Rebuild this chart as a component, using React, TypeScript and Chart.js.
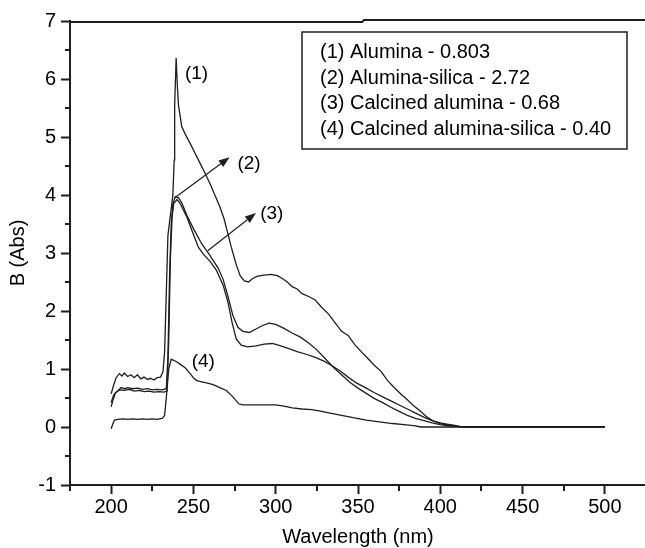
import { useEffect, useRef } from 'react';
import { Chart, registerables } from 'chart.js';

Chart.register(...registerables);

const FONT = '"Liberation Sans", Arial, Helvetica, sans-serif';
const INK = '#1e1e1e';

// (1) Alumina
const wl1 = [200, 201.5, 203, 205, 206.5, 208, 210, 212, 214, 216, 218, 220, 222, 224, 226, 228, 230, 231.5, 232.5, 234.5, 237.5, 238.3, 238.6, 239.5, 240.2, 240.9, 242.9, 245, 248, 251, 254, 257, 260, 263, 266, 268.5, 270.5, 273, 276, 278.5, 281, 283.5, 286, 289, 293, 297, 301, 304, 307, 310, 313, 316, 320, 324, 328, 332, 336, 340, 344, 348, 352, 356, 360, 364, 368, 372, 376, 380, 384, 388, 392, 396, 400, 404, 408, 412, 416, 450, 500];
const ab1 = [0.57, 0.72, 0.85, 0.92, 0.88, 0.93, 0.87, 0.9, 0.85, 0.9, 0.83, 0.86, 0.82, 0.84, 0.81, 0.85, 0.86, 0.95, 1.3, 3.3, 4.0, 4.6, 5.55, 6.36, 5.9, 5.55, 5.18, 5.05, 4.89, 4.72, 4.55, 4.38, 4.2, 4.0, 3.8, 3.6, 3.38, 3.1, 2.8, 2.6, 2.52, 2.5, 2.56, 2.6, 2.62, 2.63, 2.61, 2.56, 2.5, 2.42, 2.38, 2.3, 2.25, 2.19, 2.06, 1.95, 1.8, 1.65, 1.58, 1.42, 1.3, 1.18, 1.06, 0.96, 0.8, 0.68, 0.57, 0.47, 0.36, 0.27, 0.17, 0.1, 0.07, 0.05, 0.03, 0.01, 0, 0, 0];

// (2) Alumina-silica
const wl2 = [200, 201, 202.5, 204, 206, 208, 210, 213, 216, 219, 222, 225, 228, 231, 233.5, 234.5, 235.5, 236.5, 237.5, 239, 241, 243, 246, 250, 255, 260, 265, 268, 271, 274, 277, 280, 284, 288, 292, 296, 300, 305, 310, 315, 320, 325, 330, 335, 340, 345, 350, 355, 360, 365, 370, 375, 380, 385, 390, 395, 400, 405, 410, 414, 500];
const ab2 = [0.35, 0.45, 0.58, 0.62, 0.68, 0.66, 0.68, 0.66, 0.67, 0.65, 0.66, 0.64, 0.65, 0.64, 0.66, 1.2, 2.6, 3.5, 3.85, 3.97, 3.95, 3.86, 3.65, 3.42, 3.16, 2.96, 2.74, 2.55, 2.25, 1.92, 1.72, 1.65, 1.63, 1.69, 1.75, 1.79, 1.77, 1.7, 1.62, 1.55, 1.45, 1.33, 1.18, 1.03, 0.9, 0.77, 0.67, 0.58, 0.49, 0.42, 0.34, 0.27, 0.2, 0.15, 0.11, 0.07, 0.04, 0.02, 0.01, 0, 0];

// (3) Calcined alumina
const wl3 = [200, 201.5, 203, 205, 208, 211, 214, 217, 220, 223, 226, 229, 232, 234, 235, 236, 237, 238, 240, 242, 246, 250, 253, 256, 260, 264, 268, 271, 273.5, 276, 279, 283, 288, 293, 298, 303, 308, 313, 319, 324, 329, 334, 339, 344, 349, 355, 360, 365, 370, 375, 380, 385, 390, 395, 400, 405, 410, 415, 500];
const ab3 = [0.42, 0.55, 0.6, 0.64, 0.63, 0.65, 0.62, 0.63, 0.61, 0.62, 0.6, 0.61, 0.6, 0.62, 1.5, 2.9, 3.6, 3.85, 3.92, 3.85, 3.62, 3.32, 3.1, 2.98, 2.86, 2.7, 2.45, 2.15, 1.8, 1.52, 1.41, 1.38, 1.4, 1.43, 1.44, 1.4, 1.35, 1.3, 1.25, 1.2, 1.14, 1.06, 0.97, 0.86, 0.76, 0.67, 0.59, 0.52, 0.45, 0.38, 0.31, 0.24, 0.17, 0.11, 0.06, 0.03, 0.01, 0, 0];

// (4) Calcined alumina-silica
const wl4 = [200, 201, 202, 204, 207, 210, 213, 216, 219, 222, 225, 228, 231, 232.5, 233.5, 235, 236.5, 238, 240, 242, 245, 248, 250, 252, 255, 258, 262, 266, 270, 274, 277.5, 280, 290, 300, 305, 310, 316, 322, 328, 333, 340, 347, 355, 363, 371, 378, 385, 388, 500];
const ab4 = [-0.03, 0.05, 0.12, 0.13, 0.14, 0.13, 0.14, 0.13, 0.14, 0.13, 0.14, 0.13, 0.15, 0.2, 0.5, 1.0, 1.17, 1.15, 1.12, 1.08, 1.02, 0.92, 0.85, 0.8, 0.78, 0.76, 0.73, 0.68, 0.63, 0.52, 0.4, 0.38, 0.38, 0.38, 0.36, 0.33, 0.31, 0.3, 0.27, 0.24, 0.2, 0.16, 0.12, 0.09, 0.06, 0.04, 0.02, 0, 0];

const xTicks = [200, 250, 300, 350, 400, 450, 500];
const yTicks = [-1, 0, 1, 2, 3, 4, 5, 6, 7];
const xMinor = [175, 225, 275, 325, 375, 425, 475, 525];
const yMinor = [-0.5, 0.5, 1.5, 2.5, 3.5, 4.5, 5.5, 6.5];

const legendLines = [
  '(1) Alumina - 0.803',
  '(2) Alumina-silica - 2.72',
  '(3) Calcined alumina - 0.68',
  '(4) Calcined alumina-silica - 0.40',
];

const curveLabels = [
  { text: '(1)', x: 251.9, y: 6.09 },
  { text: '(2)', x: 283.8, y: 4.54 },
  { text: '(3)', x: 297.6, y: 3.67 },
  { text: '(4)', x: 256.0, y: 1.13 },
];

const arrows = [
  { x0: 238.5, y0: 3.95, x1: 272.0, y1: 4.65 },
  { x0: 258.7, y0: 3.04, x1: 288.0, y1: 3.69 },
];

const series = [
  { label: '(1) Alumina - 0.803', wl: wl1, ab: ab1 },
  { label: '(2) Alumina-silica - 2.72', wl: wl2, ab: ab2 },
  { label: '(3) Calcined alumina - 0.68', wl: wl3, ab: ab3 },
  { label: '(4) Calcined alumina-silica - 0.40', wl: wl4, ab: ab4 },
];

const decoPlugin = {
  id: 'deco',
  afterDraw(chart: any) {
    const { ctx, chartArea: ca, scales } = chart;
    const x = scales.x;
    const y = scales.y;
    ctx.save();
    ctx.strokeStyle = INK;
    ctx.lineWidth = 2;
    // minor ticks
    ctx.beginPath();
    for (const v of xMinor) {
      const px = Math.round(x.getPixelForValue(v));
      ctx.moveTo(px, ca.bottom);
      ctx.lineTo(px, ca.bottom + 6);
    }
    for (const v of yMinor) {
      const py = Math.round(y.getPixelForValue(v));
      ctx.moveTo(ca.left, py);
      ctx.lineTo(ca.left - 5, py);
    }
    ctx.stroke();
    // top frame line (with the small scan step)
    const stepX = x.getPixelForValue(352.5);
    ctx.beginPath();
    ctx.moveTo(ca.left - 1, ca.top + 1);
    ctx.lineTo(stepX, ca.top + 1);
    ctx.lineTo(stepX + 2, ca.top - 1);
    ctx.lineTo(ca.right, ca.top - 1);
    ctx.stroke();

    // arrows
    ctx.lineWidth = 1.2;
    ctx.fillStyle = INK;
    for (const a of arrows) {
      const sx = x.getPixelForValue(a.x0);
      const sy = y.getPixelForValue(a.y0);
      const ex = x.getPixelForValue(a.x1);
      const ey = y.getPixelForValue(a.y1);
      const ang = Math.atan2(ey - sy, ex - sx);
      const L = 11;
      const W = 4;
      const bx = ex - L * Math.cos(ang);
      const by = ey - L * Math.sin(ang);
      ctx.beginPath();
      ctx.moveTo(sx, sy);
      ctx.lineTo(bx, by);
      ctx.stroke();
      ctx.beginPath();
      ctx.moveTo(ex, ey);
      ctx.lineTo(bx + W * Math.sin(ang), by - W * Math.cos(ang));
      ctx.lineTo(bx - W * Math.sin(ang), by + W * Math.cos(ang));
      ctx.closePath();
      ctx.fill();
    }

    // curve labels
    ctx.fillStyle = '#000';
    ctx.font = `19px ${FONT}`;
    ctx.textAlign = 'center';
    ctx.textBaseline = 'middle';
    for (const l of curveLabels) {
      ctx.fillText(l.text, x.getPixelForValue(l.x), y.getPixelForValue(l.y));
    }

    // legend box
    ctx.lineWidth = 1.5;
    ctx.strokeStyle = INK;
    ctx.strokeRect(302, 32, 325, 117);
    ctx.font = `20px ${FONT}`;
    ctx.textAlign = 'left';
    const rows = [52.5, 78, 103.5, 129];
    legendLines.forEach((t, i) => ctx.fillText(t, 320, rows[i]));
    ctx.restore();
  },
};

export default function App() {
  const ref = useRef<HTMLCanvasElement | null>(null);

  useEffect(() => {
    if (!ref.current) return;
    const chart = new Chart(ref.current, {
      type: 'line',
      data: {
        datasets: series.map((s) => ({
          label: s.label,
          data: s.wl.map((w, i) => ({ x: w, y: s.ab[i] })),
          borderColor: INK,
          borderWidth: 1.3,
          pointRadius: 0,
          tension: 0,
          fill: false,
        })),
      },
      options: {
        responsive: false,
        devicePixelRatio: 1,
        animation: false,
        layout: { padding: { left: 0, top: 21, right: 14, bottom: 0 } },
        plugins: { legend: { display: false }, tooltip: { enabled: false } },
        scales: {
          x: {
            type: 'linear',
            min: 175,
            max: 525,
            afterBuildTicks: (s: any) => {
              s.ticks = xTicks.map((v) => ({ value: v }));
            },
            afterFit: (s: any) => {
              s.height = 75;
            },
            ticks: {
              font: { size: 20, family: FONT },
              color: '#000',
              padding: 1,
              maxRotation: 0,
              autoSkip: false,
            },
            grid: {
              display: true,
              drawOnChartArea: false,
              drawTicks: true,
              tickLength: 9,
              tickWidth: 2,
              tickColor: INK,
            },
            border: { display: true, color: INK, width: 2 },
            title: {
              display: true,
              text: 'Wavelength (nm)',
              font: { size: 20, family: FONT },
              color: '#000',
              padding: { top: 0, bottom: 10.5 },
            },
          },
          y: {
            type: 'linear',
            min: -1,
            max: 7,
            afterBuildTicks: (s: any) => {
              s.ticks = yTicks.map((v) => ({ value: v }));
            },
            afterFit: (s: any) => {
              s.width = 70;
            },
            ticks: {
              font: { size: 20, family: FONT },
              color: '#000',
              padding: 5,
              autoSkip: false,
            },
            grid: {
              display: true,
              drawOnChartArea: false,
              drawTicks: true,
              tickLength: 9,
              tickWidth: 2,
              tickColor: INK,
            },
            border: { display: true, color: INK, width: 2 },
            title: {
              display: true,
              text: 'B (Abs)',
              font: { size: 20, family: FONT },
              color: '#000',
              padding: { top: 6.5, bottom: 0 },
            },
          },
        },
      },
      plugins: [decoPlugin],
    });
    return () => chart.destroy();
  }, []);

  return (
    <div
      style={{
        position: 'absolute',
        left: 0,
        top: 0,
        width: 645,
        height: 548,
        overflow: 'hidden',
        background: '#fff',
      }}
    >
      <canvas
        ref={ref}
        width={660}
        height={560}
        style={{ display: 'block', width: 660, height: 560 }}
      />
    </div>
  );
}
